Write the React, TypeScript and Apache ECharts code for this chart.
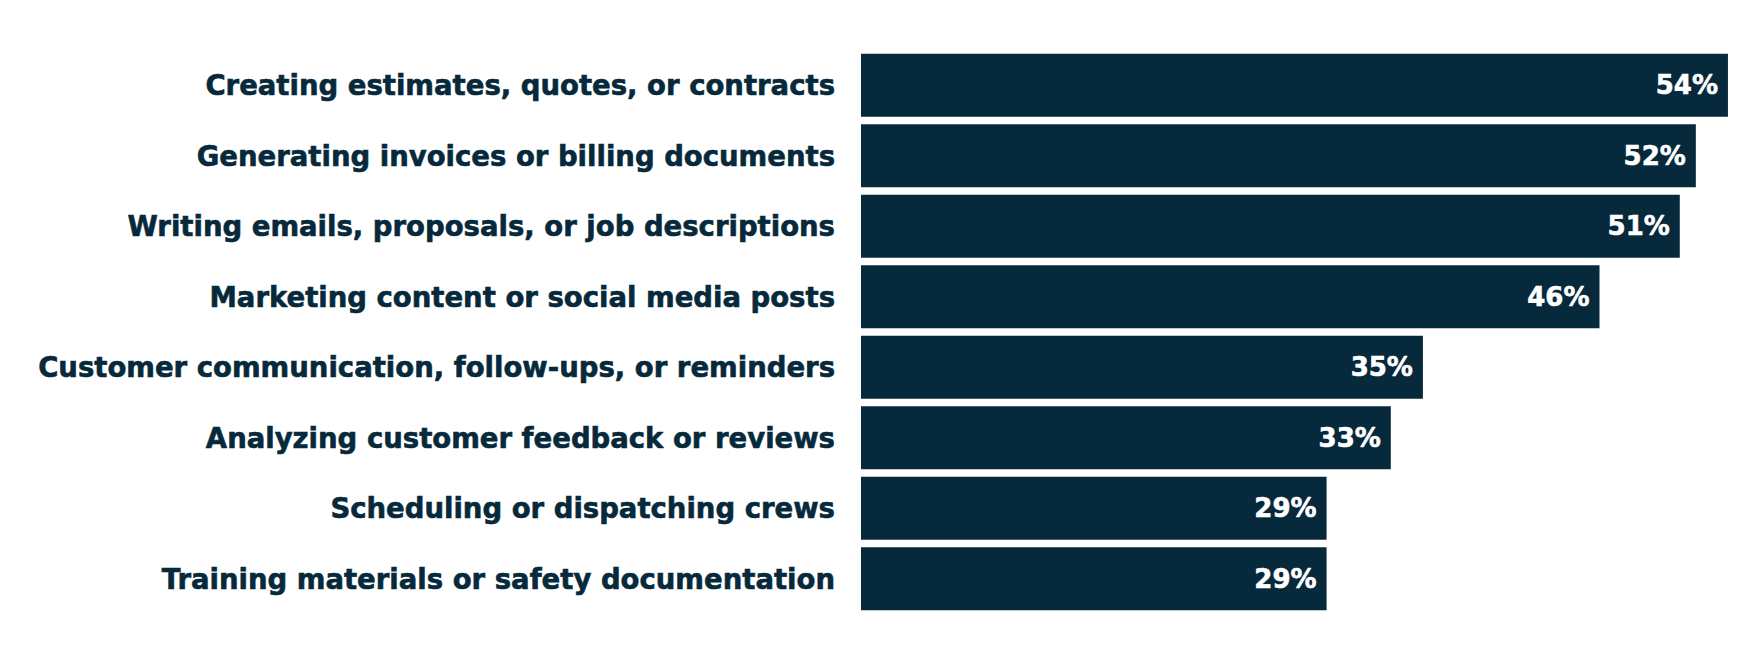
import { useEffect, useRef } from "react"
import * as echarts from "echarts"

const categories = [
  "Creating estimates, quotes, or contracts",
  "Generating invoices or billing documents",
  "Writing emails, proposals, or job descriptions",
  "Marketing content or social media posts",
  "Customer communication, follow-ups, or reminders",
  "Analyzing customer feedback or reviews",
  "Scheduling or dispatching crews",
  "Training materials or safety documentation",
]

const shares = [54, 52, 51, 46, 35, 33, 29, 29]

const NAVY = "#06293b"

export default function App() {
  const chartRef = useRef<HTMLDivElement>(null)

  useEffect(() => {
    if (!chartRef.current) return
    const chart = echarts.init(chartRef.current, null, { renderer: "svg" })

    chart.setOption({
      animation: false,
      grid: { left: 861, right: 20, top: 50, bottom: 52 },
      xAxis: {
        type: "value",
        min: 0,
        max: 55,
        show: false,
      },
      yAxis: {
        type: "category",
        data: categories,
        inverse: true,
        axisLine: { show: false },
        axisTick: { show: false },
        axisLabel: {
          margin: 26,
          color: NAVY,
          fontFamily: "DejaVu Sans",
          fontWeight: "bold",
          fontSize: 27.5,
          textBorderColor: NAVY,
          textBorderWidth: 0.6,
        },
      },
      series: [
        {
          type: "bar",
          data: shares,
          barCategoryGap: "10.5%",
          itemStyle: { color: NAVY },
          label: {
            show: true,
            position: "insideRight",
            distance: 10,
            color: "#ffffff",
            fontFamily: "DejaVu Sans",
            fontWeight: "bold",
            fontSize: 26,
            textBorderColor: "#ffffff",
            textBorderWidth: 0.6,
            formatter: (p: any) => `${p.value}%`,
          },
        },
      ],
    })

    return () => {
      chart.dispose()
    }
  }, [])

  return <div ref={chartRef} style={{ width: 1764, height: 666, margin: -8 }} />
}
